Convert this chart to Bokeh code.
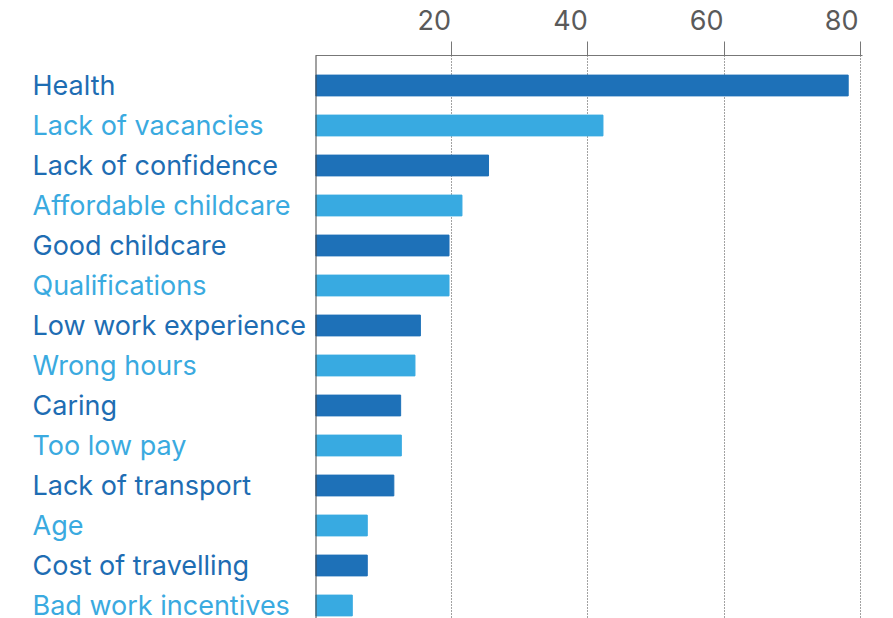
from bokeh.plotting import figure
from bokeh.models import Range1d, ColumnDataSource, Span, FixedTicker
from bokeh.layouts import row
from bokeh.core.properties import value
from bokeh.embed import file_html
from bokeh.resources import INLINE

categories = ["Health", "Lack of vacancies", "Lack of confidence", "Affordable childcare",
              "Good childcare", "Qualifications", "Low work experience", "Wrong hours",
              "Caring", "Too low pay", "Lack of transport", "Age", "Cost of travelling",
              "Bad work incentives"]
values = [78.2, 42.2, 25.4, 21.5, 19.6, 19.6, 15.4, 14.6, 12.5, 12.6, 11.5, 7.6, 7.6, 5.4]
x_ticks = [20, 40, 60, 80]
x_tick_labels = ["20", "40", "60", "80"]

DARK = "#1e71b8"
LIGHT = "#38aae1"
DARK_TXT = "#1e6db3"
LIGHT_TXT = "#3aaae0"
FONT = "Inter"

idx = list(range(len(categories)))
bar_colors = [DARK if i % 2 == 0 else LIGHT for i in idx]
txt_colors = [DARK_TXT if i % 2 == 0 else LIGHT_TXT for i in idx]

src = ColumnDataSource(dict(y=idx, v=values, cat=categories, bc=bar_colors, tc=txt_colors,
                            lx=[32] * len(idx)))

yr = Range1d(13.325, -0.75)

# left panel: category labels
pl = figure(width=315, height=618, output_backend="svg", toolbar_location=None,
            x_range=Range1d(0, 315), y_range=yr,
            min_border_left=0, min_border_right=0, min_border_top=55, min_border_bottom=0)
pl.outline_line_color = None
pl.axis.visible = False
pl.grid.visible = False
pl.text(x="lx", y="y", text="cat", source=src, text_color="tc",
        text_font=value(FONT), text_font_size="27px",
        text_align="left", text_baseline="middle")

# right panel: bars
p = figure(width=578, height=618, output_backend="svg", toolbar_location=None,
           x_range=Range1d(0, 80.3), y_range=yr,
           x_axis_location="above", min_border_left=0, min_border_right=31,
           min_border_top=55, min_border_bottom=0)
p.outline_line_color = None
p.yaxis.visible = False
p.ygrid.visible = False

p.hbar(y="y", right="v", left=0, height=0.52, color="bc", source=src)

ax = p.xaxis[0]
ax.ticker = FixedTicker(ticks=x_ticks)
# pad with figure spaces so the digits sit to the left of each tick, as in the original
ax.major_label_overrides = {t: lab + "\u2007\u2007" for t, lab in zip(x_ticks, x_tick_labels)}
ax.minor_tick_line_color = None
ax.major_tick_in = 0
ax.major_tick_out = 14
ax.major_tick_line_color = "#777777"
ax.axis_line_color = "#777777"
ax.major_label_text_font = FONT
ax.major_label_text_font_size = "27px"
ax.major_label_text_color = "#5a5a5a"
ax.major_label_standoff = 5

p.xgrid.ticker = FixedTicker(ticks=x_ticks)
p.xgrid.grid_line_color = "#444444"
p.xgrid.grid_line_dash = "1 2"
p.xgrid.grid_line_width = 1

p.add_layout(Span(location=0, dimension="height", line_color="#444444", line_width=2))

layout = row(pl, p, spacing=0)
open("out.html", "w").write(file_html(layout, INLINE))
